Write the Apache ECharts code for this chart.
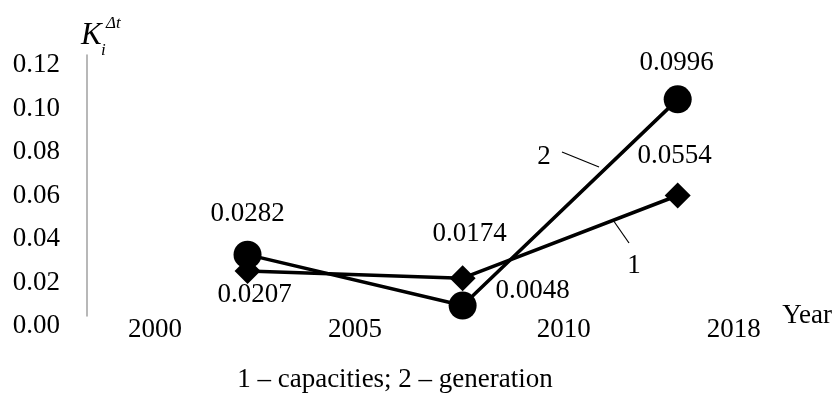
<!DOCTYPE html>
<html>
<head>
<meta charset="utf-8">
<script src="https://cdn.jsdelivr.net/npm/echarts@6/dist/echarts.min.js"></script>
<style>
html,body{margin:0;padding:0;background:#fff;}
#chart{width:835px;height:394px;}
</style>
</head>
<body>
<div id="chart"></div>
<script>
// ---- data ----
var intervals = ['2000–2005', '2005–2010', '2010–2018'];
var capacities = [0.0207, 0.0174, 0.0554];   // series 1 (diamonds)
var generation = [0.0282, 0.0048, 0.0996];   // series 2 (circles)
var yearLabels = ['2000', '2005', '2010', '2018'];
var yearTickAt = [0.07, 1.0, 1.97, 2.76];    // where each year label sits along the interval axis
var yTicks = [0, 0.02, 0.04, 0.06, 0.08, 0.10, 0.12];
var legendText = '1 – capacities; 2 – generation';

var FONT = '"Liberation Serif", "Times New Roman", serif';

// label offsets per point (layout only)
var offCap = [[7, 24], [7, -44], [-3, -40]];
var offGen = [[0, -41], [70, -15], [-1, -36]];

function items(vals, offs) {
  return vals.map(function (v, i) {
    return { value: v, label: { offset: offs[i] } };
  });
}

var chart = echarts.init(document.getElementById('chart'), null, { renderer: 'canvas' });

var option = {
  backgroundColor: '#fff',
  animation: false,
  textStyle: { fontFamily: FONT },
  grid: { left: 140, right: 49, top: 55, bottom: 78, containLabel: false },
  xAxis: [
    {
      type: 'category', data: intervals, boundaryGap: true,
      axisLine: { show: false }, axisTick: { show: false }, axisLabel: { show: false },
      splitLine: { show: false }
    },
    {
      type: 'value', min: 0, max: 3, position: 'bottom',
      axisLine: { show: false, onZero: false }, axisTick: { show: false }, splitLine: { show: false },
      axisLabel: {
        customValues: yearTickAt,
        formatter: function (v) {
          var i = yearTickAt.indexOf(v);
          return i >= 0 ? yearLabels[i] : '';
        },
        color: '#000', fontSize: 27, fontFamily: FONT, margin: 0
      },
      name: 'Year', nameLocation: 'end', nameGap: -3,
      nameTextStyle: { color: '#000', fontSize: 27, fontFamily: FONT, padding: [0, 0, 19, 0], align: 'left' }
    }
  ],
  yAxis: {
    type: 'value', min: yTicks[0], max: yTicks[yTicks.length - 1], interval: 0.02,
    offset: 53,
    axisLine: { show: true, onZero: false, lineStyle: { color: '#a0a0a0', width: 1.5 } },
    axisTick: { show: false }, splitLine: { show: false },
    axisLabel: {
      formatter: function (v) { return v.toFixed(2); },
      color: '#000', fontSize: 27, fontFamily: FONT, margin: 27,
      verticalAlign: 'top', lineHeight: 20
    }
  },
  series: [
    {
      name: 'capacities', type: 'line', xAxisIndex: 0,
      data: items(capacities, offCap),
      symbol: 'diamond', symbolSize: 26,
      lineStyle: { color: '#000', width: 3.5 },
      itemStyle: { color: '#000' },
      label: {
        show: true, position: 'inside', color: '#000', fontSize: 27, fontFamily: FONT,
        formatter: function (p) { return p.value.toFixed(4); }
      },
      z: 2
    },
    {
      name: 'generation', type: 'line', xAxisIndex: 0,
      data: items(generation, offGen),
      symbol: 'circle', symbolSize: 28,
      lineStyle: { color: '#000', width: 3.5 },
      itemStyle: { color: '#000' },
      label: {
        show: true, position: 'inside', color: '#000', fontSize: 27, fontFamily: FONT,
        formatter: function (p) { return p.value.toFixed(4); }
      },
      z: 3
    }
  ],
  graphic: [
    { type: 'text', style: { text: 'K', x: 81, y: 36, fill: '#000', font: 'italic 31px ' + FONT, verticalAlign: 'middle', align: 'left' } },
    { type: 'text', style: { text: 'Δt', x: 106, y: 24, fill: '#000', font: 'italic 17px ' + FONT, verticalAlign: 'middle', align: 'left' } },
    { type: 'text', style: { text: 'i', x: 101, y: 51, fill: '#000', font: 'italic 17px ' + FONT, verticalAlign: 'middle', align: 'left' } },
    { type: 'text', style: { text: '2', x: 544, y: 157, fill: '#000', font: '27px ' + FONT, verticalAlign: 'middle', align: 'center' } },
    { type: 'line', shape: { x1: 562, y1: 152, x2: 599, y2: 167 }, style: { stroke: '#000', lineWidth: 1.2 } },
    { type: 'text', style: { text: '1', x: 634, y: 266, fill: '#000', font: '27px ' + FONT, verticalAlign: 'middle', align: 'center' } },
    { type: 'line', shape: { x1: 613, y1: 220, x2: 629, y2: 243 }, style: { stroke: '#000', lineWidth: 1.2 } },
    { type: 'text', style: { text: legendText, x: 395, y: 380, fill: '#000', font: '27px ' + FONT, verticalAlign: 'middle', align: 'center' } }
  ]
};

chart.setOption(option);
</script>
</body>
</html>
